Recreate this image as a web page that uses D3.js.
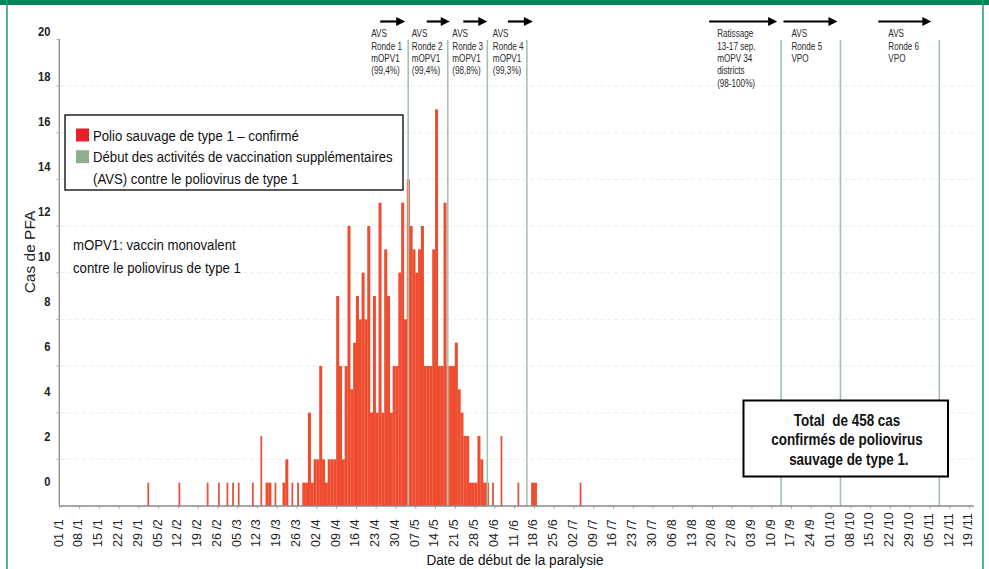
<!DOCTYPE html>
<html lang="fr">
<head>
<meta charset="utf-8">
<title>Cas de PFA : polio sauvage de type 1</title>
<script src="https://cdnjs.cloudflare.com/ajax/libs/d3/7.8.5/d3.min.js"></script>
<style>
  body { margin: 0; background: #fff; }
  svg text { font-family: "Liberation Sans", Arial, sans-serif; }
</style>
</head>
<body>
<script>
// jour de l'annee (0 = 1er janvier 2010) et cas confirmes ce jour-la
var caseDays = [31, 42, 52, 56, 59, 61, 63, 68, 71, 73, 74, 76, 79, 80, 82, 84,
  86, 87, 88, 89, 90, 91, 92, 93, 94, 95, 96, 97, 98, 99, 100, 101, 102, 103, 104,
  105, 106, 107, 108, 109, 110, 111, 112, 113, 114, 115, 116, 117, 118, 119, 120,
  121, 122, 123, 124, 125, 126, 127, 128, 129, 130, 131, 132, 133, 134, 135, 136,
  137, 138, 139, 140, 141, 142, 143, 144, 145, 146, 147, 148, 149, 150, 151, 153,
  156, 162, 167, 168, 184];
var caseCounts = [1, 1, 1, 1, 1, 1, 1, 1, 3, 1, 1, 1, 1, 2, 1, 1,
  1, 1, 4, 1, 2, 2, 6, 2, 1, 2, 2, 2, 9, 6, 2, 6, 12, 5, 7,
  9, 8, 10, 8, 12, 4, 9, 4, 13, 4, 11, 9, 4, 6, 6, 10,
  13, 8, 14, 12, 11, 10, 11, 12, 6, 6, 6, 11, 17, 6, 6, 13,
  6, 6, 6, 7, 5, 4, 3, 3, 1, 1, 1, 3, 2, 1, 1, 1,
  3, 1, 1, 1, 1];

var yTickLabels = [0, 2, 4, 6, 8, 10, 12, 14, 16, 18, 20];

// debut des AVS
var avsDates = ["2010-05-04", "2010-05-18", "2010-06-01", "2010-06-15",
  "2010-09-13", "2010-10-04", "2010-11-08"];
var avsLabels = [
  ["AVS", "Ronde 1", "mOPV1", "(99,4%)"],
  ["AVS", "Ronde 2", "mOPV1", "(99,4%)"],
  ["AVS", "Ronde 3", "mOPV1", "(98,8%)"],
  ["AVS", "Ronde 4", "mOPV1", "(99,3%)"],
  ["Ratissage", "13-17 sep.", "mOPV 34", "districts", "(98-100%)"],
  ["AVS", "Ronde 5", "VPO"],
  ["AVS", "Ronde 6", "VPO"]
];

var legendItems = [
  { color: "#e8202a", lines: ["Polio sauvage de type 1 \u2013 confirm\u00e9"] },
  { color: "#8fae8f", lines: ["D\u00e9but des activit\u00e9s de vaccination suppl\u00e9mentaires",
                              "(AVS) contre le poliovirus de type 1"] }
];
var noteLines = ["mOPV1: vaccin monovalent", "contre le poliovirus de type 1"];
var totalLines = ["Total  de 458 cas", "confirm\u00e9s de poliovirus", " sauvage de type 1."];

// mise en page des annotations (decalages en px par rapport a la ligne AVS)
var textDx = [-37, -36, -35, -34, -64, -49, -51];
var arrowDx = [[-28, -3], [-21, 2], [-24, 0], [-19, 6], [-72, -4], [-57, -3], [-61, -8]];

var W = 989, H = 569;
var parse = d3.timeParse("%Y-%m-%d");
var start = new Date(2010, 0, 1);
var end = new Date(2010, 10, 19);

var svg = d3.select("body").append("svg")
  .attr("width", W).attr("height", H);

// texte etroit : police Arial comprimee horizontalement
function narrow(sel, px, py, size, sx) {
  return sel.append("text")
    .attr("transform", "translate(" + px + "," + py + ") scale(" + sx + ",1)")
    .attr("font-size", size);
}

// cadre vert
svg.append("rect").attr("x", 0).attr("y", 0).attr("width", W).attr("height", 5).attr("fill", "#00845a");
svg.append("line").attr("x1", 7).attr("x2", 7).attr("y1", 0).attr("y2", H)
  .attr("stroke", "#1f9a6e").attr("stroke-width", 1.5);
svg.append("line").attr("x1", 983).attr("x2", 983).attr("y1", 0).attr("y2", H)
  .attr("stroke", "#1f9a6e").attr("stroke-width", 1.5);

var x = d3.scaleTime().domain([start, end]).range([59.3, 969]);
var y = d3.scaleLinear().domain([0, 20]).range([506, 39.4]);
var yLabel = d3.scaleLinear().domain([0, 20]).range([y(1.05), y(20.35)]);

// grille
svg.append("g").selectAll("line")
  .data(d3.range(2, 20, 2))
  .enter().append("line")
  .attr("x1", 61).attr("x2", 975)
  .attr("y1", function(d) { return y(d); })
  .attr("y2", function(d) { return y(d); })
  .attr("stroke", "#ececec")
  .attr("stroke-dasharray", "4,3");

// barres (les barres isolees sont plus fines, comme dans l'original)
var dayW = x(d3.timeDay.offset(start, 1)) - x(start);
var daySet = new Set(caseDays);
var bars = caseDays.map(function(d, i) {
  return { day: d3.timeDay.offset(start, d), n: caseCounts[i],
           alone: !daySet.has(d - 1) && !daySet.has(d + 1) };
});
svg.append("g").selectAll("rect")
  .data(bars)
  .enter().append("rect")
  .attr("x", function(d) { return d.alone ? x(d.day) + dayW / 2 - 0.9 : x(d.day); })
  .attr("width", function(d) { return d.alone ? 1.8 : dayW + 0.2; })
  .attr("y", function(d) { return y(d.n); })
  .attr("height", function(d) { return y(0) - y(d.n); })
  .attr("fill", function(d) { return d.alone ? "#e0553f" : "#ef4d30"; });

// lignes AVS
var avs = avsDates.map(function(s, i) {
  return { date: d3.timeHour.offset(parse(s), 12), lines: avsLabels[i], dx: textDx[i], arrow: arrowDx[i] };
});
svg.append("g").selectAll("line")
  .data(avs)
  .enter().append("line")
  .attr("x1", function(d) { return x(d.date); })
  .attr("x2", function(d) { return x(d.date); })
  .attr("y1", 40).attr("y2", y(0))
  .attr("stroke", "#a9c2ad")
  .attr("stroke-width", 1.6);

var ann = svg.append("g").selectAll("g")
  .data(avs)
  .enter().append("g")
  .attr("transform", function(d) { return "translate(" + x(d.date) + ",0)"; });

ann.append("line")
  .attr("x1", function(d) { return d.arrow[0]; })
  .attr("x2", function(d) { return d.arrow[1] - 6; })
  .attr("y1", 21.5).attr("y2", 21.5)
  .attr("stroke", "#000").attr("stroke-width", 2.2);
ann.append("path")
  .attr("d", function(d) {
    var e = d.arrow[1];
    return "M" + e + ",21.5L" + (e - 9) + ",17L" + (e - 9) + ",26Z";
  })
  .attr("fill", "#000");

ann.each(function(d) {
  var t = narrow(d3.select(this), d.dx, 37.3, 11, 0.74).attr("fill", "#2a2a2a");
  d.lines.forEach(function(l, i) {
    t.append("tspan").attr("x", 0).attr("dy", i === 0 ? 0 : 12.4).text(l);
  });
});

// axe Y
svg.append("line").attr("x1", 59.3).attr("x2", 59.3).attr("y1", 39).attr("y2", y(0))
  .attr("stroke", "#8a8a8a").attr("stroke-width", 1.3);
svg.append("g").selectAll("line")
  .data(d3.range(2, 21, 2))
  .enter().append("line")
  .attr("x1", 56.5).attr("x2", 59.3)
  .attr("y1", function(d) { return y(d); })
  .attr("y2", function(d) { return y(d); })
  .attr("stroke", "#aaa");

var yAxis = svg.append("g")
  .call(d3.axisLeft(yLabel).tickValues(yTickLabels).tickSize(0).tickPadding(0));
yAxis.select(".domain").remove();
yAxis.selectAll(".tick").attr("transform", null);
yAxis.selectAll("text")
  .attr("transform", function(d) { return "translate(50.5," + yLabel(d) + ") scale(0.86,1)"; })
  .attr("x", 0).attr("dy", "0.35em")
  .attr("font-size", 13)
  .attr("font-weight", "bold")
  .attr("fill", "#222");

svg.append("text")
  .attr("transform", "translate(35,252) rotate(-90)")
  .attr("text-anchor", "middle")
  .attr("font-size", 15.5)
  .attr("fill", "#222")
  .text("Cas de PFA");

// axe X
var xTicks = d3.timeFriday.range(start, d3.timeDay.offset(end, 1));
var xAxis = svg.append("g")
  .attr("transform", "translate(0," + y(0) + ")")
  .call(d3.axisBottom(x).tickValues(xTicks).tickSize(2.5).tickSizeOuter(0)
    .tickFormat(d3.timeFormat("%d /%-m")));
xAxis.select(".domain").attr("d", "M59.3,0H974").attr("stroke", "#8a8a8a").attr("stroke-width", 1.3);
xAxis.selectAll(".tick line").attr("stroke", "#999");
xAxis.selectAll("text")
  .attr("transform", "rotate(-90)")
  .attr("text-anchor", "start")
  .attr("x", -41).attr("y", -1.5).attr("dy", "0.35em")
  .attr("font-size", 12.5)
  .attr("fill", "#222");

narrow(svg, 515, 565, 15.5, 0.88)
  .attr("text-anchor", "middle")
  .attr("fill", "#111")
  .text("Date de d\u00e9but de la paralysie");

// legende
svg.append("rect").attr("x", 65).attr("y", 115).attr("width", 338).attr("height", 75)
  .attr("fill", "#fff").attr("stroke", "#000").attr("stroke-width", 1.3);
var ly = 135;
legendItems.forEach(function(item) {
  svg.append("rect").attr("x", 76).attr("y", ly - 6.5).attr("width", 13).attr("height", 13)
    .attr("fill", item.color);
  item.lines.forEach(function(l) {
    narrow(svg, 93, ly + 5.5, 15, 0.88).attr("fill", "#111").text(l);
    ly += 21.7;
  });
});

noteLines.forEach(function(l, i) {
  narrow(svg, 73, 250 + i * 23, 15, 0.88).attr("fill", "#111").text(l);
});

// total
svg.append("rect").attr("x", 743.5).attr("y", 400.5).attr("width", 204.5).attr("height", 76)
  .attr("fill", "#fff").attr("stroke", "#000").attr("stroke-width", 2);
totalLines.forEach(function(l, i) {
  narrow(svg, 847, 425.5 + i * 19.5, 16, 0.84)
    .attr("text-anchor", "middle")
    .attr("font-weight", "bold")
    .attr("fill", "#111")
    .style("white-space", "pre")
    .text(l);
});
</script>
</body>
</html>
